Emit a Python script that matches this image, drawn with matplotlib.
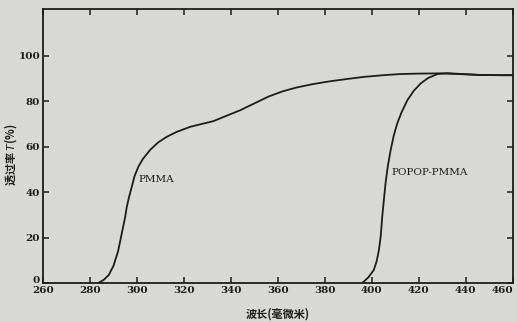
import matplotlib.pyplot as plt
import matplotlib.transforms as mtransforms

# transmission curves (wavelength nm, T %)
pmma_wl = [283.6, 286, 288, 290, 292, 293.6, 295, 295.7, 296.7, 297.8, 299, 300.6,
           302.5, 305.6, 309, 312.7, 317, 322.7, 327, 332.6, 338, 344, 350, 356,
           362, 368, 375, 382, 390, 397, 405, 412, 420, 429, 437, 446, 455, 460]
pmma_t = [0, 1.5, 3.5, 7.5, 14, 22, 29, 33.5, 38, 42.3, 47, 51.1,
          54.5, 58.5, 61.8, 64.3, 66.5, 68.7, 69.8, 71.2, 73.5, 76.0, 79, 82,
          84.3, 86, 87.5, 88.7, 89.8, 90.7, 91.4, 91.9, 92.1, 92.2, 91.9, 91.5, 91.4, 91.4]

popop_wl = [395.9, 398.5, 400.8, 402, 403, 403.8, 404.4, 405.1, 405.8, 406.8, 408,
            409.3, 410.8, 412.8, 415.1, 417.8, 420.8, 424, 427.9, 432, 437, 446, 455, 460]
popop_t = [0, 2.5, 5.7, 9.5, 14.5, 21, 29.1, 36.5, 43.8, 51.5, 58.5,
           64.8, 70.2, 75.5, 80.4, 84.5, 87.8, 90.2, 91.9, 92.3, 92.0, 91.5, 91.4, 91.4]

xticks = list(range(260, 461, 20))
yticks = [0, 20, 40, 60, 80, 100]

bg = '#d8d8d5'
ink = '#1c1c1c'

fig = plt.figure(figsize=(5.17, 3.22), dpi=100, facecolor=bg)
ax = fig.add_axes([0.083, 0.121, 0.909, 0.851], facecolor=bg)

ax.plot(pmma_wl, pmma_t, color=ink, lw=1.3)
ax.plot(popop_wl, popop_t, color=ink, lw=1.3)

ax.set_xlim(260, 460)
ax.set_ylim(0, 120.5)
ax.set_xticks(xticks)
ax.set_yticks(yticks)
ax.tick_params(direction='in', length=4, width=1.1, color=ink, top=True, right=True,
               labelsize=7.5, labelcolor=ink, pad=2)
for lab in ax.get_xticklabels() + ax.get_yticklabels():
    lab.set_family('DejaVu Serif')
    lab.set_weight('bold')
for s in ax.spines.values():
    s.set_color(ink)
    s.set_linewidth(1.3)

fig.canvas.draw()
xlabs = ax.get_xticklabels()
xlabs[-1].set_horizontalalignment('right')
ylabs = ax.get_yticklabels()
ylabs[0].set_transform(ylabs[0].get_transform()
                       + mtransforms.ScaledTranslation(0, 0.04, fig.dpi_scale_trans))

ax.text(300.5, 45.5, 'PMMA', family='DejaVu Serif', fontsize=7.5, color=ink,
        ha='left', va='center')
ax.text(408.3, 48.5, 'POPOP-PMMA', family='DejaVu Serif', fontsize=7.5, color=ink,
        ha='left', va='center')

ax.set_xlabel('波长(毫微米)', family=['Noto Sans CJK SC', 'DejaVu Sans'],
              fontsize=8, weight='bold', color=ink, labelpad=9)
ax.set_ylabel('透过率 $T$(%)', family=['Noto Sans CJK SC', 'DejaVu Sans'],
              fontsize=8, weight='bold', color=ink)
ax.yaxis.set_label_coords(-0.05, 0.47)

fig.savefig('out.png', dpi=100, facecolor=bg)
